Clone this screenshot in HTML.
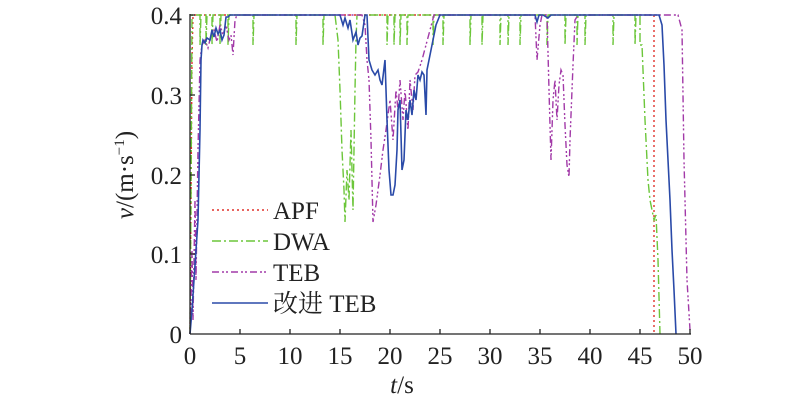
<!DOCTYPE html>
<html><head><meta charset="utf-8"><style>
html,body{margin:0;padding:0;background:#fff;width:800px;height:403px;overflow:hidden}
text{font-family:"Liberation Serif","Noto Serif CJK SC",serif;fill:#222}
</style></head><body>
<svg width="800" height="403" viewBox="0 0 800 403" xmlns="http://www.w3.org/2000/svg">
<g fill="none" stroke-width="1.4">
<polyline stroke="#e0302a" stroke-dasharray="2,3" points="190,334 191,200 192,60 193,15 654,15 654,334"/>
<polyline stroke="#6cc63a" stroke-dasharray="9,3,2,3" points="190,334 191,200 192,15 200,15 200,45 201,15 206,15 206,45 207,15 212,15 212,45 213,15 220,15 220,45 221,15 228,15 228,45 229,15 253,15 253,45 254,15 296,15 296,45 297,15 323,15 323,45 324,15 335,15 338,40 340,90 342,150 344,190 345,222 347,170 349,200 351,130 353,210 355,90 356,40 357,15 387,15 387,45 388,15 394,15 394,45 395,15 400,15 400,45 401,15 407,15 407,45 408,15 433,15 433,45 434,15 443,15 443,45 444,15 470,15 470,45 471,15 482,15 482,45 483,15 500,15 500,45 501,15 508,15 508,45 509,15 520,15 520,45 521,15 547,15 547,45 548,15 565,15 565,45 566,15 577,15 577,45 578,15 585,15 585,45 586,15 613,15 613,45 614,15 635,15 635,45 636,15 640,15 640,45 642,45 645,120 648,180 650,200 652,210 654,220 656,215 658,260 660,334"/>
<polyline stroke="#a23aa8" stroke-dasharray="7,3,2,2,2,3" points="190,334 191,300 192,250 193,320 194,260 195,200 196,280 198,150 200,60 202,45 205,40 208,48 211,35 214,30 217,42 220,25 223,35 226,25 229,40 231,35 233,55 235,20 237,15 362,15 365,25 367,60 369,80 371,140 373,222 376,205 380,175 383,150 386,130 390,100 393,140 396,90 398,110 400,80 403,120 405,90 408,130 410,80 413,110 415,75 418,72 422,60 426,45 430,30 434,15 535,15 537,60 540,25 542,15 547,15 549,90 551,160 553,100 555,80 557,120 559,85 561,70 563,75 565,125 567,165 569,177 570,140 573,65 575,20 578,15 678,15 682,30 684,160 687,280 690,330"/>
<polyline stroke="#2a4aa8" stroke-width="1.6" points="190,334 192,310 194,280 196,250 198,220 200,130 201,60 202,45 203,40 205,43 207,38 210,40 212,30 214,37 216,28 218,34 220,30 222,40 224,35 226,17 228,17 230,15 340,15 343,25 345,18 348,28 350,20 353,40 356,32 358,45 360,38 362,36 365,15 367,15 369,60 372,70 375,75 378,70 380,80 382,85 385,60 387,120 389,170 391,195 393,195 395,185 397,150 398,110 400,100 402,170 404,160 406,110 408,120 410,100 412,115 414,90 416,100 418,75 420,80 422,72 424,75 426,115 427,70 430,55 433,40 436,25 440,15 535,15 537,22 539,15 543,15 548,18 551,15 659,15 662,25 664,65 666,120 668,160 670,200 672,250 674,290 676,334"/>
</g>
<g stroke="#222" stroke-width="1.3" fill="none">
<line x1="190" y1="14" x2="190" y2="334"/>
<line x1="190" y1="334" x2="691" y2="334"/>
<path d="M240,334v-5M290,334v-5M340,334v-5M390,334v-5M440,334v-5M490,334v-5M540,334v-5M590,334v-5M640,334v-5M690,334v-5"/>
<path d="M190,254h5M190,175h5M190,95h5M190,15h5"/>
</g>
<g font-size="25" text-anchor="middle">
<text x="190" y="364">0</text><text x="240" y="364">5</text><text x="290" y="364">10</text><text x="340" y="364">15</text><text x="390" y="364">20</text><text x="440" y="364">25</text><text x="490" y="364">30</text><text x="540" y="364">35</text><text x="590" y="364">40</text><text x="640" y="364">45</text><text x="690" y="364">50</text>
</g>
<g font-size="25" text-anchor="end">
<text x="182" y="343">0</text><text x="182" y="263">0.1</text><text x="182" y="184">0.2</text><text x="182" y="104">0.3</text><text x="182" y="24">0.4</text>
</g>
<text x="402" y="393" font-size="25" text-anchor="middle"><tspan font-style="italic">t</tspan>/s</text>
<text transform="translate(133,175) rotate(-90)" font-size="25" text-anchor="middle"><tspan font-style="italic">v</tspan>/(m·s<tspan font-size="15" dy="-9">−1</tspan><tspan dy="9">)</tspan></text>
<g fill="none" stroke-width="1.4">
<line x1="212" y1="210" x2="268" y2="210" stroke="#e0302a" stroke-dasharray="2,3"/>
<line x1="212" y1="241" x2="268" y2="241" stroke="#6cc63a" stroke-dasharray="9,3,2,3"/>
<line x1="212" y1="272" x2="268" y2="272" stroke="#a23aa8" stroke-dasharray="7,3,2,2,2,3"/>
<line x1="212" y1="303" x2="268" y2="303" stroke="#2a4aa8" stroke-width="1.6"/>
</g>
<g font-size="25">
<text x="273" y="219">APF</text><text x="273" y="250">DWA</text><text x="273" y="281">TEB</text><text x="273" y="312">改进 TEB</text>
</g>
</svg>
</body></html>
